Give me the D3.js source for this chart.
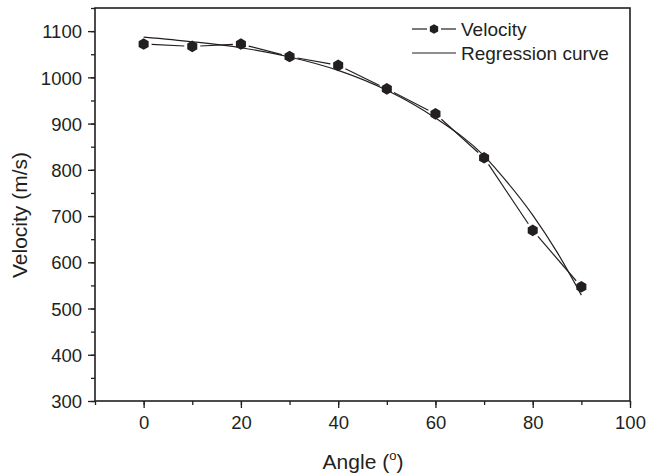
<!DOCTYPE html>
<html>
<head>
<meta charset="utf-8">
<script src="https://cdn.jsdelivr.net/npm/d3@7"></script>
<style>
  body { margin: 0; background: #fff; }
  svg { display: block; font-family: "Liberation Sans", Arial, sans-serif; }
</style>
</head>
<body>
<script>
const width = 647,
    height = 475;

// measured points
const angles = [0, 10, 20, 30, 40, 50, 60, 70, 80, 90];
const velocity = [1072, 1067, 1072, 1045, 1026, 975, 921, 826, 669, 547];

// regression curve
const fitAngles = [0, 10, 20, 30, 40, 50, 60, 70, 73, 80, 85, 90];
const fitVelocity = [1087, 1077, 1064, 1044, 1015, 972, 912, 830, 795, 702, 622, 529];

const xTicks = [0, 20, 40, 60, 80, 100];
const yTicks = [300, 400, 500, 600, 700, 800, 900, 1000, 1100];

const ink = '#231f20';

const x = d3.scaleLinear().domain([-10, 100]).range([95, 630]);
const y = d3.scaleLinear().domain([300, 1150]).range([401, 8]);

const svg = d3.select('body').append('svg')
    .attr('width', width)
    .attr('height', height);

// minor ticks first so major ones sit on top
svg.append('g')
    .attr('transform', `translate(0,${y.range()[0]})`)
    .call(d3.axisBottom(x).tickValues(d3.range(-10, 101, 10)).tickSize(4).tickFormat(''))
    .call(g => g.select('.domain').remove());
svg.append('g')
    .attr('transform', `translate(${x.range()[0]},0)`)
    .call(d3.axisLeft(y).tickValues(d3.range(300, 1151, 50)).tickSize(4).tickFormat(''))
    .call(g => g.select('.domain').remove());

const xAxis = svg.append('g')
    .attr('transform', `translate(0,${y.range()[0]})`)
    .call(d3.axisBottom(x).tickValues(xTicks).tickSize(7).tickPadding(8).tickFormat(d3.format('d')));
const yAxis = svg.append('g')
    .attr('transform', `translate(${x.range()[0]},0)`)
    .call(d3.axisLeft(y).tickValues(yTicks).tickSize(7).tickPadding(6).tickFormat(d3.format('d')));

[xAxis, yAxis].forEach(g => {
    g.select('.domain').remove();
    g.selectAll('text')
        .attr('fill', ink)
        .style('font-size', '18.5px');
});
yAxis.selectAll('text').attr('dy', '0.36em');
svg.selectAll('g.tick line').attr('stroke', ink).attr('stroke-width', 1.3);

// frame
svg.append('rect')
    .attr('x', x.range()[0])
    .attr('y', y.range()[1])
    .attr('width', x.range()[1] - x.range()[0])
    .attr('height', y.range()[0] - y.range()[1])
    .attr('fill', 'none')
    .attr('stroke', ink)
    .attr('stroke-width', 1.6);

// regression curve
svg.append('path')
    .datum(fitAngles.map((a, i) => [a, fitVelocity[i]]))
    .attr('fill', 'none')
    .attr('stroke', ink)
    .attr('stroke-width', 1.2)
    .attr('d', d3.line().x(d => x(d[0])).y(d => y(d[1])).curve(d3.curveMonotoneX));

// velocity line, broken around the markers
const pts = angles.map((a, i) => [x(a), y(velocity[i])]);
const gap = 8;
const segs = d3.pairs(pts).map(([p, q]) => {
    const dx = q[0] - p[0], dy = q[1] - p[1];
    const len = Math.hypot(dx, dy);
    const ux = dx / len, uy = dy / len;
    return [[p[0] + ux * gap, p[1] + uy * gap], [q[0] - ux * gap, q[1] - uy * gap]];
});
svg.append('g').selectAll('line')
    .data(segs)
    .join('line')
    .attr('x1', d => d[0][0]).attr('y1', d => d[0][1])
    .attr('x2', d => d[1][0]).attr('y2', d => d[1][1])
    .attr('stroke', ink)
    .attr('stroke-width', 1.2);

// hexagon marker, vertex up
const hex = r => d3.line()(d3.range(6).map(i => {
    const t = Math.PI / 2 + i * Math.PI / 3;
    return [r * Math.cos(t), -r * Math.sin(t)];
})) + 'Z';

svg.append('g').selectAll('path')
    .data(pts)
    .join('path')
    .attr('transform', d => `translate(${d[0]},${d[1]})`)
    .attr('d', hex(5.8))
    .attr('fill', ink);

// legend
const legend = svg.append('g').attr('transform', 'translate(412,0)');
legend.append('line').attr('x1', 0).attr('x2', 15).attr('y1', 29).attr('y2', 29)
    .attr('stroke', ink).attr('stroke-width', 1.2);
legend.append('line').attr('x1', 29).attr('x2', 44).attr('y1', 29).attr('y2', 29)
    .attr('stroke', ink).attr('stroke-width', 1.2);
legend.append('path').attr('transform', 'translate(22,29)').attr('d', hex(4.8)).attr('fill', ink);
legend.append('line').attr('x1', 0).attr('x2', 44).attr('y1', 53).attr('y2', 53)
    .attr('stroke', ink).attr('stroke-width', 1.2);
legend.append('text').attr('x', 49).attr('y', 36).text('Velocity')
    .attr('fill', ink).style('font-size', '19px');
legend.append('text').attr('x', 49).attr('y', 60).text('Regression curve')
    .attr('fill', ink).style('font-size', '19px');

// axis titles
const xt = svg.append('text')
    .attr('x', 363)
    .attr('y', 469)
    .attr('text-anchor', 'middle')
    .attr('fill', ink)
    .style('font-size', '21px');
xt.append('tspan').text('Angle (');
xt.append('tspan').attr('dy', -9).style('font-size', '13px').text('o');
xt.append('tspan').attr('dy', 9).text(')');

svg.append('text')
    .attr('transform', 'translate(27,215) rotate(-90)')
    .attr('text-anchor', 'middle')
    .attr('fill', ink)
    .style('font-size', '21px')
    .text('Velocity (m/s)');
</script>
</body>
</html>
